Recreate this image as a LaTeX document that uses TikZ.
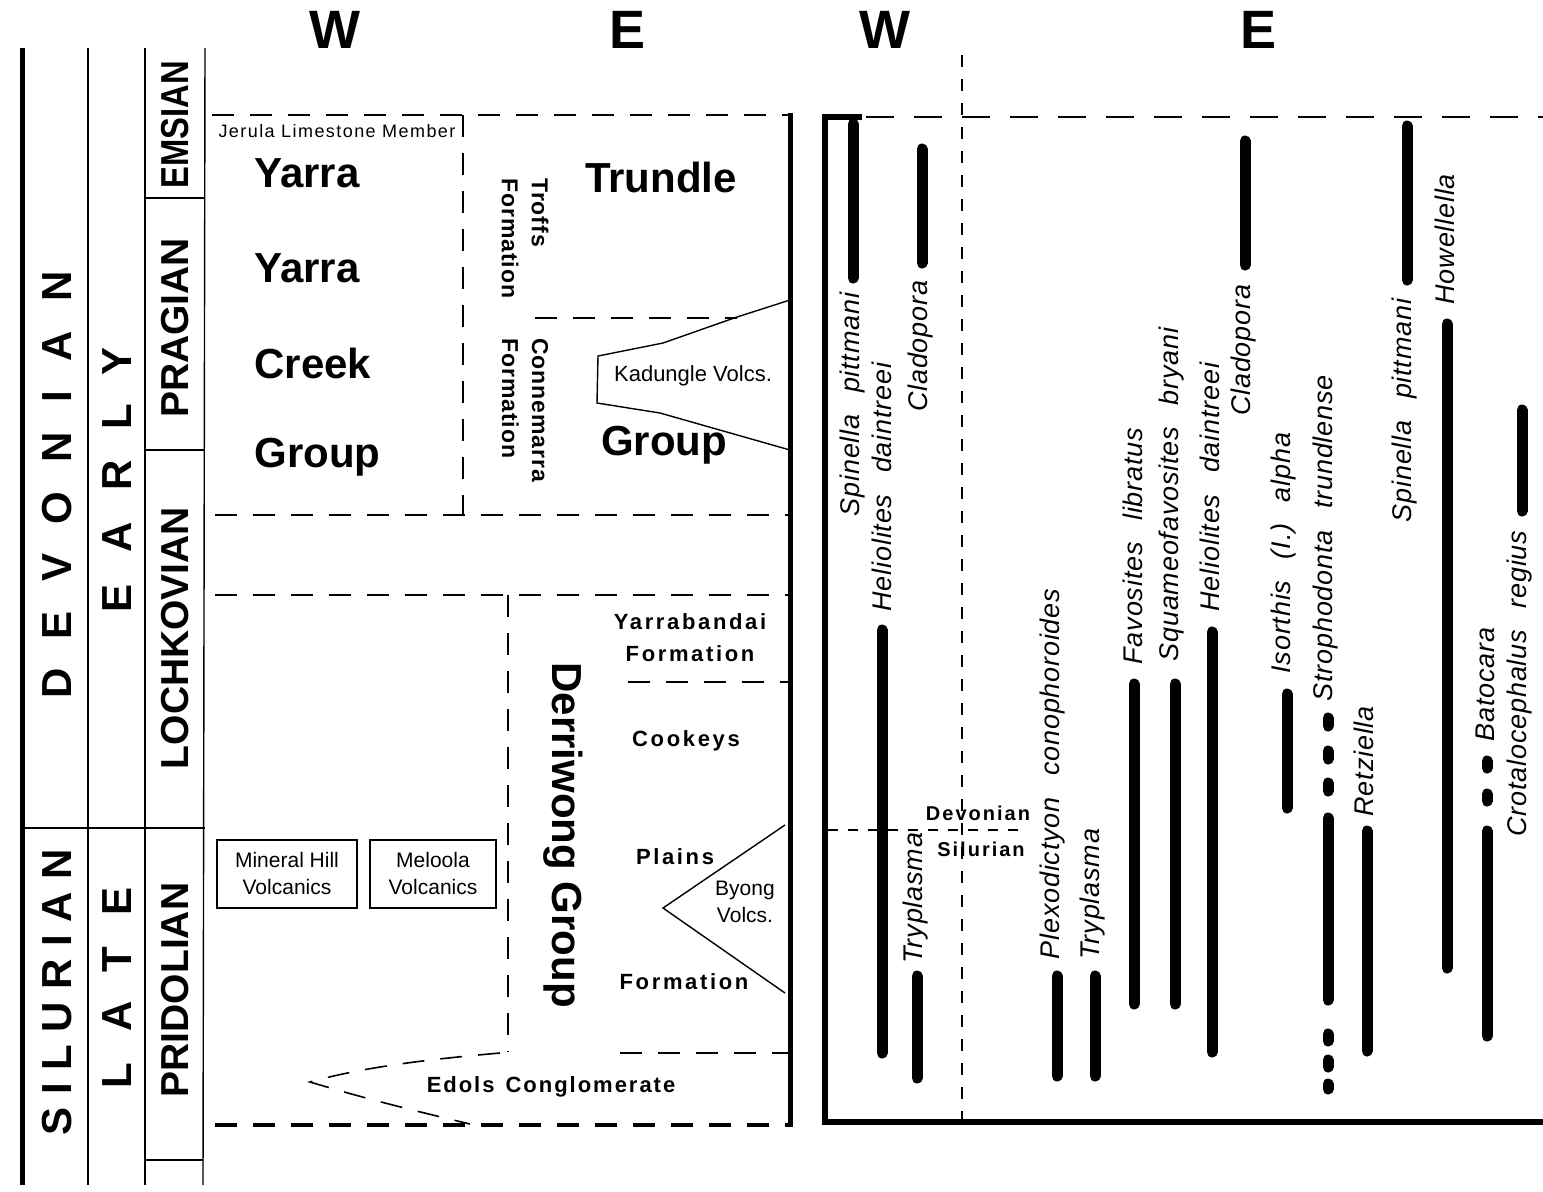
\documentclass[tikz,border=0pt]{standalone}
\usepackage{fontspec}
\setmainfont{Liberation Sans}
\usepackage{graphicx}
\usepackage{tikz}
\usetikzlibrary{positioning}

\newcommand{\wordgap}{\hspace{0.8em}}

\tikzset{
  hdr/.style={font=\fontsize{27}{27}\selectfont\bfseries},
  period/.style={rotate=90, font=\fontsize{21}{21}\selectfont\bfseries},
  stage/.style={rotate=90, font=\fontsize{19.5}{20}\selectfont\bfseries},
  bigunit/.style={font=\fontsize{21}{22}\selectfont\bfseries},
  unit/.style={font=\fontsize{11}{16}\selectfont\bfseries\addfontfeature{LetterSpace=12}, align=center},
  formn/.style={rotate=-90, align=left, anchor=west, font=\fontsize{11.5}{15}\selectfont\bfseries\addfontfeature{LetterSpace=4}},
  volc/.style={font=\fontsize{10.5}{13.5}\selectfont, align=center},
  taxon/.style={rotate=90, inner sep=0pt, font=\fontsize{13.5}{14}\selectfont\itshape\addfontfeature{LetterSpace=3}},
  contact/.style={line width=0.8pt, dash pattern=on 11pt off 8pt},
  rangebar/.style={line width=5.5pt, line cap=round},
}

\begin{document}
\begin{tikzpicture}[x=0.5pt, y=-0.5pt, line width=0.7pt]
\useasboundingbox (0,0) rectangle (1543,1191);

% Headers
\node[hdr] (wleft) at (335,30) {W};
\node[hdr] (eleft) at (628,30) {E};
\node[hdr] (wright) at (885,30) {W};
\node[hdr] (eright) at (1258,30) {E};

% Time scale columns
\draw[line width=2.5pt] (22,48) -- (22,1185);
\draw (88,48) -- (88,1185);
\draw (145,48) -- (145,1185);
\draw (205,48) -- (203,1185);
\draw (22,828) -- (205,828);
\draw (145,198) -- (205,198);
\draw (145,450) -- (205,450);
\draw (145,1160) -- (203,1160);

\node[period] (devonian) at (57,485) {\addfontfeature{LetterSpace=70}DEVONIAN};
\node[period] (silurian) at (57,992) {\addfontfeature{LetterSpace=30}SILURIAN};
\node[period] (early) at (117,480) {\addfontfeature{LetterSpace=75}EARLY};
\node[period] (late) at (117,988) {\addfontfeature{LetterSpace=75}LATE};
\node[stage] (emsian) at (175,125) {\scalebox{0.84}[1]{EMSIAN}};
\node[stage] (pragian) at (175,328) {PRAGIAN};
\node[stage] (lochkovian) at (175,638) {LOCHKOVIAN};
\node[stage] (pridolian) at (175,990) {PRIDOLIAN};

% Lithostratigraphy
\draw[contact] (212,115) -- (790,115);
\draw[contact] (463,115) -- (463,515);
\draw[contact] (215,515) -- (790,515);
\draw[contact] (215,595) -- (790,595);
\draw[contact] (535,318) -- (737,318);
\draw[contact] (508,595) -- (508,1052);
\draw[contact] (628,682) -- (790,682);
\draw[contact] (620,1053) -- (790,1053);
\draw[contact] (500,1053) .. controls (420,1060) and (360,1068) .. (310,1082)
  .. controls (370,1100) and (420,1112) .. (470,1124);
\draw[contact, line width=1.8pt] (215,1125) -- (788,1125);
\draw[line width=2.5pt] (790,113) -- (790,1127);

\node[font=\fontsize{9}{10}\selectfont\addfontfeature{LetterSpace=8}] (jerula) at (337,131) {Jerula Limestone Member};
\node[bigunit, anchor=west] (yarra1) at (247,173) {Yarra};
\node[bigunit, anchor=west] (yarra2) at (247,268) {Yarra};
\node[bigunit, anchor=west] (creek) at (247,363) {Creek};
\node[bigunit, anchor=west] (ycgroup) at (247,457) {Group};
\node[bigunit] (trundle) at (661,177) {Trundle};
\node[bigunit] (tgroup) at (664,445) {Group};
\node[formn] (troffs) at (525,171) {Troffs\\Formation};
\node[formn] (connemarra) at (525,331) {Connemarra\\Formation};

% Kadungle Volcanics
\draw (790,300) -- (737,317) -- (663,343) -- (598,356) -- (597,403) -- (660,413) -- (790,450);
\node[volc, font=\fontsize{11}{13.5}\selectfont] (kadungle) at (693,376) {Kadungle Volcs.};

% Derriwong Group
\node[bigunit, rotate=-90] (derriwong) at (563,835) {Derriwong Group};
\node[unit] (yarrabandai) at (690,638) {Yarrabandai\\Formation};
\node[unit] (cookeys) at (686,741) {Cookeys};
\node[unit] (plains) at (675,857) {Plains};
\node[unit] (formation) at (684,982) {Formation};
\node[unit, font=\fontsize{11}{16}\selectfont\bfseries\addfontfeature{LetterSpace=9}] (edols) at (551,1087) {Edols\hspace{0.5em}Conglomerate};

% Byong Volcanics
\draw (785,825) -- (663,908) -- (785,993);
\node[volc] (byong) at (745,902) {Byong\\Volcs.};

% Volcanic boxes
\draw (217,840) rectangle (357,908);
\node[volc] (mineral) at (287,873) {Mineral Hill\\Volcanics};
\draw (370,840) rectangle (496,908);
\node[volc] (meloola) at (433,873) {Meloola\\Volcanics};

% Range chart frame
\draw[line width=3pt] (862,117) -- (825,117) -- (825,1122) -- (1543,1122);
\draw[line width=0.8pt, dash pattern=on 14pt off 10pt] (866,117) -- (1543,117);
\draw[line width=0.7pt, dash pattern=on 6pt off 6pt] (962,55) -- (962,1120);
\draw[line width=0.7pt, dash pattern=on 5pt off 5pt] (828,830) -- (1027,830);
\node[unit, font=\fontsize{10}{12}\selectfont\bfseries\addfontfeature{LetterSpace=10}] (devlabel) at (978,813) {Devonian};
\node[unit, font=\fontsize{10}{12}\selectfont\bfseries\addfontfeature{LetterSpace=10}] (sillabel) at (981,849) {Silurian};

% West ranges
\draw[rangebar] (853,124) -- (853,278);
\node[taxon, anchor=east] (spinW) at (853,292) {Spinella\wordgap pittmani};
\draw[rangebar] (882,630) -- (882,1053);
\node[taxon, anchor=west] (helioW) at (882,612) {Heliolites\wordgap daintreei};
\draw[rangebar] (922,149) -- (922,263);
\node[taxon, anchor=east] (cladoW) at (921,280) {Cladopora};
\draw[rangebar] (917,976) -- (917,1078);
\node[taxon, anchor=west] (trypW) at (916,964) {Tryplasma};

% East ranges
\draw[rangebar] (1057,976) -- (1057,1076);
\node[taxon, anchor=west] (plexo) at (1053,960) {Plexodictyon\wordgap conophoroides};
\draw[rangebar] (1095,976) -- (1095,1076);
\node[taxon, anchor=west] (trypE) at (1093,960) {Tryplasma};
\draw[rangebar] (1134,684) -- (1134,1004);
\node[taxon, anchor=west] (favo) at (1133,665) {Favosites\wordgap libratus};
\draw[rangebar] (1175,684) -- (1175,1004);
\node[taxon, anchor=west] (squam) at (1172,662) {Squameofavosites\wordgap bryani};
\draw[rangebar] (1212,632) -- (1212,1052);
\node[taxon, anchor=west] (helioE) at (1210,612) {Heliolites\wordgap daintreei};
\draw[rangebar] (1245,141) -- (1245,265);
\node[taxon, anchor=east] (cladoE) at (1244,284) {Cladopora};
\draw[rangebar] (1287,694) -- (1287,808);
\node[taxon, anchor=west] (isorthis) at (1284,674) {Isorthis\wordgap (I.)\wordgap alpha};
\draw[rangebar] (1328,718) -- (1328,726);
\draw[rangebar] (1328,751) -- (1328,759);
\draw[rangebar] (1328,783) -- (1328,791);
\draw[rangebar] (1328,818) -- (1328,1000);
\draw[rangebar] (1328,1034) -- (1328,1041);
\draw[rangebar] (1328,1060) -- (1328,1067);
\draw[rangebar] (1328,1084) -- (1328,1089);
\node[taxon, anchor=west] (stropho) at (1326,702) {Strophodonta\wordgap trundlense};
\draw[rangebar] (1367,831) -- (1367,1051);
\node[taxon, anchor=west] (retzi) at (1364,817) {Retziella};
\draw[rangebar] (1407,126) -- (1407,280);
\node[taxon, anchor=east] (spinE) at (1405,298) {Spinella\wordgap pittmani};
\draw[rangebar] (1447,324) -- (1447,968);
\node[taxon, anchor=west] (howell) at (1445,305) {Howellella};
\draw[rangebar] (1487,761) -- (1487,768);
\draw[rangebar] (1487,794) -- (1487,801);
\draw[rangebar] (1487,831) -- (1487,1036);
\node[taxon, anchor=west] (batocara) at (1485,742) {Batocara};
\draw[rangebar] (1522,410) -- (1522,511);
\node[taxon, anchor=east] (crotalo) at (1520,530) {Crotalocephalus\wordgap regius};
\end{tikzpicture}
\end{document}
